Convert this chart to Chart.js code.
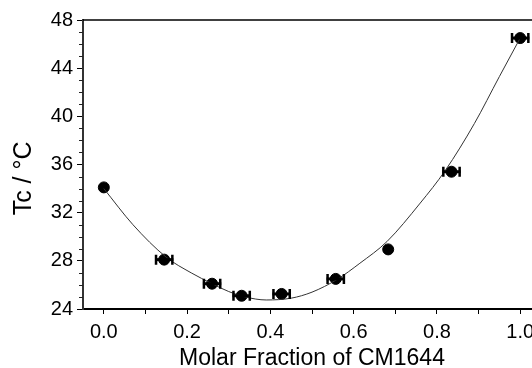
<!DOCTYPE html>
<html>
<head>
<meta charset="utf-8">
<script src="https://cdn.jsdelivr.net/npm/chart.js@4/dist/chart.umd.min.js"></script>
<style>
  html, body { margin: 0; padding: 0; background: #fff; overflow: hidden; }
</style>
</head>
<body>
<canvas id="tcChart" width="548" height="368"></canvas>
<script>
// measured points
const fracX = [0.0, 0.145, 0.26, 0.331, 0.427, 0.557, 0.683, 0.835, 1.0];
const tcY = [34.1, 28.1, 26.1, 25.1, 25.25, 26.5, 28.95, 35.4, 46.5];
const fracErr = [0, 0.022, 0.022, 0.022, 0.022, 0.022, 0, 0.022, 0.022];

// fit curve
const fitX = [0, 0.07, 0.15, 0.21, 0.26, 0.30, 0.34, 0.39, 0.45, 0.50, 0.56, 0.615, 0.68, 0.76, 0.82, 0.89, 0.95, 1.0];
const fitY = [34.0, 31.0, 28.3, 27.0, 26.1, 25.45, 25.0, 24.75, 24.9, 25.4, 26.45, 27.8, 29.6, 32.8, 35.5, 39.4, 43.3, 46.5];

const xTicks = [0, 0.1, 0.2, 0.3, 0.4, 0.5, 0.6, 0.7, 0.8, 0.9, 1.0];
const xLabels = ["0.0", "", "0.2", "", "0.4", "", "0.6", "", "0.8", "", "1.0"];
const yTicks = [24, 28, 32, 36, 40, 44, 48];
const yMinor = [25, 26, 27, 29, 30, 31, 33, 34, 35, 37, 38, 39, 41, 42, 43, 45, 46, 47];

const fontFam = "'Liberation Sans', Arial, sans-serif";

// error bars, minor ticks, top frame line
const extras = {
  id: "extras",
  afterDatasetsDraw(chart) {
    const c = chart.ctx;
    const xs = chart.scales.x, ys = chart.scales.y;
    c.save();
    c.strokeStyle = "#000";
    fracX.forEach((v, i) => {
      if (!fracErr[i]) return;
      const x1 = xs.getPixelForValue(v - fracErr[i]);
      const x2 = xs.getPixelForValue(v + fracErr[i]);
      const y = ys.getPixelForValue(tcY[i]);
      c.lineWidth = 3;
      c.beginPath();
      c.moveTo(x1, y); c.lineTo(x2, y);
      c.stroke();
      c.lineWidth = 2.5;
      c.beginPath();
      c.moveTo(x1 + 1, y - 5); c.lineTo(x1 + 1, y + 5);
      c.moveTo(x2 - 1, y - 5); c.lineTo(x2 - 1, y + 5);
      c.stroke();
    });
    c.restore();
  },
  afterDraw(chart) {
    const c = chart.ctx;
    const area = chart.chartArea;
    const ys = chart.scales.y;
    c.save();
    c.strokeStyle = "#000";
    c.lineWidth = 1.5;
    c.beginPath();
    c.moveTo(area.left, area.top);
    c.lineTo(area.right, area.top);
    c.stroke();
    c.lineWidth = 1;
    c.strokeStyle = "#222";
    c.beginPath();
    yMinor.forEach(v => {
      const y = Math.round(ys.getPixelForValue(v)) + 0.5;
      c.moveTo(area.left - 4, y);
      c.lineTo(area.left, y);
    });
    c.stroke();
    c.restore();
  }
};

new Chart(document.getElementById("tcChart"), {
  type: "scatter",
  data: {
    datasets: [
      {
        type: "line",
        label: "fit",
        data: fitX.map((x, i) => ({ x: x, y: fitY[i] })),
        borderColor: "#333",
        borderWidth: 1,
        pointRadius: 0,
        cubicInterpolationMode: "monotone",
        fill: false,
      },
      {
        label: "Tc",
        data: fracX.map((x, i) => ({ x: x, y: tcY[i] })),
        backgroundColor: "#000",
        borderColor: "#000",
        pointRadius: 5.5,
        pointHoverRadius: 5.5,
      },
    ],
  },
  options: {
    responsive: false,
    animation: false,
    devicePixelRatio: 1,
    layout: { padding: { top: 20, right: 7, left: 0, bottom: 0 } },
    plugins: {
      legend: { display: false },
      tooltip: { enabled: false },
    },
    scales: {
      x: {
        type: "linear",
        min: -0.05,
        max: 1.05,
        afterFit(scale) { scale.height = 59; },
        afterBuildTicks(scale) { scale.ticks = xTicks.map(v => ({ value: v })); },
        grid: {
          drawOnChartArea: false,
          tickLength: 5,
          tickColor: "#000",
          tickWidth: 1,
        },
        border: { color: "#000", width: 2 },
        ticks: {
          autoSkip: false,
          maxRotation: 0,
          padding: 6,
          color: "#000",
          font: { family: fontFam, size: 20 },
          callback: (v, i) => xLabels[i],
        },
        title: {
          display: true,
          text: "Molar Fraction of CM1644",
          color: "#000",
          font: { family: fontFam, size: 23, lineHeight: 0.8 },
          padding: { top: 0, bottom: 0 },
        },
      },
      y: {
        min: 24,
        max: 48,
        afterFit(scale) { scale.width = 83; },
        afterBuildTicks(scale) { scale.ticks = yTicks.map(v => ({ value: v })); },
        grid: {
          drawOnChartArea: false,
          tickLength: 6,
          tickColor: "#000",
          tickWidth: 1,
        },
        border: { color: "#333", width: 2 },
        ticks: {
          autoSkip: false,
          padding: 4,
          color: "#000",
          font: { family: fontFam, size: 20 },
        },
        title: {
          display: true,
          text: "Tc / °C\u00a0\u00a0\u00a0\u00a0",
          color: "#000",
          font: { family: fontFam, size: 25, lineHeight: 1 },
          padding: { top: 12, bottom: 0 },
        },
      },
    },
  },
  plugins: [extras],
});
</script>
</body>
</html>
